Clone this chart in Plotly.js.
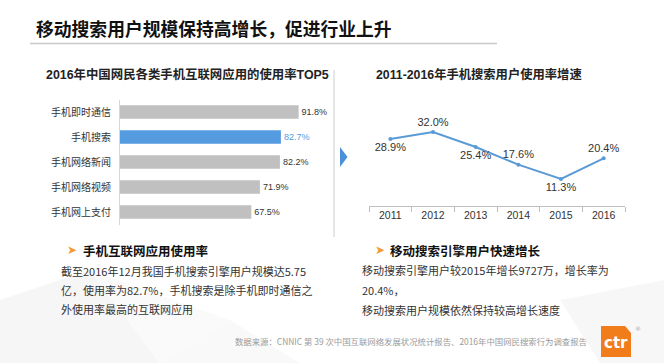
<!DOCTYPE html>
<html><head><meta charset="utf-8">
<script src="https://cdn.plot.ly/plotly-3.0.1.min.js"></script>
<style>html,body{margin:0;padding:0;background:#fff;}#chart{width:664px;height:363px;}</style>
</head><body><div id="chart"></div>
<script>
// ---- data ----
const appCategories = ['手机即时通信','手机搜索','手机网络新闻','手机网络视频','手机网上支付'];
const appRates = [91.8, 82.7, 82.2, 71.9, 67.5];
const appLabels = ['91.8%','82.7%','82.2%','71.9%','67.5%'];
const years = ['2011','2012','2013','2014','2015','2016'];
const growthRates = [28.9, 32.0, 25.4, 17.6, 11.3, 20.4];
const growthLabels = ['28.9%','32.0%','25.4%','17.6%','11.3%','20.4%'];
const labelSides = ['bottom center','top center','bottom center','top center','bottom center','top center'];

const W = 664, H = 363;
const px = x => x / W;
const py = y => 1 - y / H;
const CJK = 'Noto Sans CJK SC, sans-serif';
const MIX = 'Liberation Sans, Noto Sans CJK SC, sans-serif';
const GRAY = '#c0c0c0', BLUE = '#559be0', TXT = '#333333';

const barColors = appCategories.map((c,i) => i === 1 ? BLUE : GRAY);
const barTextColors = appCategories.map((c,i) => i === 1 ? BLUE : TXT);

const traces = [
  {
    type: 'bar', orientation: 'h', x: appRates, y: appCategories,
    xaxis: 'x', yaxis: 'y', width: 0.54,
    marker: {color: barColors},
    text: appLabels, textposition: 'outside', cliponaxis: false,
    textfont: {family: MIX, size: 9, color: barTextColors},
    hoverinfo: 'none'
  },
  {
    type: 'scatter', mode: 'lines+markers+text', x: years, y: growthRates,
    xaxis: 'x2', yaxis: 'y2',
    line: {color: '#5b9bd5', width: 2},
    marker: {color: '#5b9bd5', size: 4},
    text: growthLabels, textposition: labelSides, cliponaxis: false,
    textfont: {family: MIX, size: 11, color: TXT},
    hoverinfo: 'none'
  }
];

const ann = (text, x, y, size, opts) => Object.assign({
  text: text, x: px(x), y: py(y), xref: 'paper', yref: 'paper',
  showarrow: false, xanchor: 'left', yanchor: 'middle',
  font: {family: CJK, size: size, color: TXT}
}, opts || {});

const annotations = [
  ann('<b>移动搜索用户规模保持高增长，促进行业上升</b>', 34, 28.5, 17.8, {font: {family: CJK, size: 17.8, color: '#111'}}),
  ann('<b>2016年中国网民各类手机互联网应用的使用率TOP5</b>', 187, 75, 12.4, {xanchor: 'center', font: {family: MIX, size: 12.4, color: '#222'}}),
  ann('<b>2011-2016年手机搜索用户使用率增速</b>', 479, 75, 12.3, {xanchor: 'center', font: {family: MIX, size: 12.3, color: '#222'}}),
  ann('➤', 65, 250, 12, {font: {family: 'DejaVu Sans', size: 12, color: '#f39a35'}}),
  ann('<b>手机互联网应用使用率</b>', 81, 250, 12.5, {font: {family: CJK, size: 12.5, color: '#111'}}),
  ann('截至2016年12月我国手机搜索引擎用户规模达5.75', 59, 271, 11),
  ann('亿，使用率为82.7%，手机搜索是除手机即时通信之', 59, 290, 11),
  ann('外使用率最高的互联网应用', 59, 309, 11),
  ann('➤', 373, 250, 12, {font: {family: 'DejaVu Sans', size: 12, color: '#f39a35'}}),
  ann('<b>移动搜索引擎用户快速增长</b>', 388, 250, 12.5, {font: {family: CJK, size: 12.5, color: '#111'}}),
  ann('移动搜索引擎用户较2015年增长9727万，增长率为', 360, 270, 11),
  ann('20.4%，', 360, 290, 11),
  ann('移动搜索用户规模依然保持较高增长速度', 360, 310, 11),
  ann('数据来源：CNNIC 第 39 次中国互联网络发展状况统计报告、2016年中国网民搜索行为调查报告', 233, 341, 8.4, {font: {family: CJK, size: 8.4, color: '#9a9a9a'}}),
  ann('<b>ctr</b>', 616, 343, 15, {xanchor: 'center', font: {family: 'DejaVu Sans', size: 15, color: '#ffffff'}}),
  ann('®', 638, 328, 6, {xanchor: 'center', font: {family: 'DejaVu Sans', size: 6, color: '#aaaaaa'}})
];

const poly = (pts, fill) => ({
  type: 'path', xref: 'paper', yref: 'paper', layer: 'below',
  path: 'M' + pts.map(p => px(p[0]) + ',' + py(p[1])).join(' L') + ' Z',
  fillcolor: fill, line: {width: 0}
});

const shapes = [
  // faint background facets
  poly([[0,300],[90,270],[160,363],[0,363]], 'rgba(0,0,0,0.035)'),
  poly([[90,270],[230,320],[160,363]], 'rgba(0,0,0,0.02)'),
  poly([[230,320],[300,363],[160,363]], 'rgba(0,0,0,0.025)'),
  poly([[560,300],[664,280],[664,363],[600,363]], 'rgba(0,0,0,0.03)'),
  // title underline
  {type: 'line', xref: 'paper', yref: 'paper', x0: px(30), x1: px(497), y0: py(43.5), y1: py(43.5), line: {color: '#c8c8c8', width: 1.5}},
  // separator
  {type: 'line', xref: 'paper', yref: 'paper', x0: px(334), x1: px(334), y0: py(70), y1: py(237), line: {color: '#cccccc', width: 1}},
  // blue triangle
  poly([[340,147],[347.5,157],[340,167]], '#4a90d9'),
  // logo
  poly([[601,326],[625,326],[631,333],[631,357],[601,357]], '#f07c1a')
];

const layout = {
  width: W, height: H, margin: {l: 0, r: 0, t: 0, b: 0},
  paper_bgcolor: '#ffffff', plot_bgcolor: 'rgba(0,0,0,0)',
  showlegend: false,
  font: {family: MIX, color: TXT},
  xaxis: {domain: [px(120), px(320)], range: [0, 102.8], visible: false, fixedrange: true},
  yaxis: {domain: [py(224.5), py(99.5)], type: 'category', categoryarray: appCategories,
          range: [4.5, -0.5], showline: true, linecolor: '#d6d6d6', linewidth: 1,
          showgrid: false, zeroline: false, ticks: '', ticklabelstandoff: 6,
          tickfont: {family: CJK, size: 10, color: TXT}},
  xaxis2: {domain: [px(369), px(625)], anchor: 'y2', type: 'category', range: [-0.5, 5.5],
           showline: true, linecolor: '#bfbfbf', linewidth: 1, ticks: 'outside',
           tickson: 'boundaries', ticklen: 5, tickcolor: '#bfbfbf', showgrid: false,
           tickfont: {family: MIX, size: 10.5, color: TXT}},
  yaxis2: {domain: [py(205.8), py(113.8)], anchor: 'x2', range: [-0.5, 40], visible: false},
  annotations: annotations,
  shapes: shapes
};

Plotly.newPlot('chart', traces, layout, {displayModeBar: false, staticPlot: true});
</script></body></html>
